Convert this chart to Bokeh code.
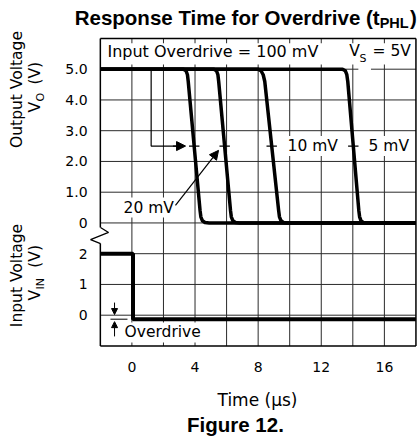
import numpy as np
from math import pi
from bokeh.plotting import figure
from bokeh.models import Label, Arrow, NormalHead, Range1d
from bokeh.core.properties import value
from bokeh.embed import file_html
from bokeh.resources import INLINE

# ---------------- data ----------------
time_ticks = [0, 4, 8, 12, 16]
time_tick_labels = ["0", "4", "8", "12", "16"]
vo_tick_values = [0, 1, 2, 3, 4, 5]
vo_tick_labels = ["0", "1.0", "2.0", "3.0", "4.0", "5.0"]
vin_tick_values = [0, 1, 2]
vin_tick_labels = ["0", "1", "2"]
VO_OFFSET = 3  # Vo panel is stacked 3 units above Vin = 0 on the shared axis

# output response curves (time in us, Vo in V)
t_100mV = [-2, 3.27, 3.43, 3.52, 3.57, 4.32, 4.37, 4.47, 4.63, 4.90, 18]
vo_100mV = [5, 5, 4.95, 4.82, 4.6, 0.4, 0.2, 0.07, 0.015, 0, 0]
t_20mV = [-2, 5.20, 5.36, 5.45, 5.50, 6.25, 6.30, 6.40, 6.56, 6.83, 18]
vo_20mV = [5, 5, 4.95, 4.82, 4.6, 0.4, 0.2, 0.07, 0.015, 0, 0]
t_10mV = [-2, 7.98, 8.18, 8.32, 8.42, 9.30, 9.35, 9.45, 9.60, 9.85, 18]
vo_10mV = [5, 5, 4.95, 4.82, 4.6, 0.4, 0.2, 0.07, 0.015, 0, 0]
t_5mV = [-2, 13.35, 13.52, 13.62, 13.68, 14.38, 14.43, 14.52, 14.66, 14.92, 18]
vo_5mV = [5, 5, 4.95, 4.82, 4.6, 0.4, 0.2, 0.07, 0.015, 0, 0]
crossing_t = [3.95, 5.88, 8.86, 14.03]   # time where Vo = 2.5 V
crossing_v = 2.5

# input step
vin_t = [-2, 0.07, 0.07, 18]
vin_v = [2, 2, -0.13, -0.13]

grid_t = [0, 2, 4, 6, 8, 10, 12, 14, 16]
grid_y = [0, 1, 2, 3, 4, 5, 6, 7, 8]
t_min, t_max = -2, 18
y_min, y_max = -1, 9

FONT = "DejaVu Sans"
BOLD = "Liberation Sans"

p = figure(width=418, height=436, output_backend="svg", toolbar_location=None,
           x_range=Range1d(-8.327, 18.162), y_range=Range1d(-3.945, 10.234),
           x_axis_location=None, y_axis_location=None,
           min_border=0, min_border_left=0, min_border_right=0,
           min_border_top=0, min_border_bottom=0)
p.outline_line_color = None
p.xgrid.visible = False
p.ygrid.visible = False
p.background_fill_color = "white"
p.border_fill_color = "white"

# grid
GC = "#2a2a2a"
p.segment(x0=grid_t, y0=[y_min] * len(grid_t), x1=grid_t, y1=[y_max] * len(grid_t),
          line_color=GC, line_width=1)
p.segment(x0=[t_min] * len(grid_y), y0=grid_y, x1=[t_max] * len(grid_y), y1=grid_y,
          line_color=GC, line_width=1)
# blank band behind top annotation text
p.quad(left=t_min, right=t_max, bottom=8.15, top=8.84, fill_color="white", line_color=None)
p.quad(left=14.35, right=15.15, bottom=7.93, top=8.07, fill_color="white", line_color=None)

# frame with axis break on the left
BC = "black"
p.segment(x0=[t_min, t_min, t_min, t_max], y0=[y_max, y_min, y_min, y_min],
          x1=[t_max, t_max, t_min, t_max], y1=[y_max, y_min, 2.33, y_max],
          line_color=BC, line_width=1.5)
p.line([t_min, t_min], [2.85, y_max], line_color=BC, line_width=1.5)
p.line([-1.99, -1.48, -2.62, -1.99], [2.85, 2.69, 2.46, 2.33], line_color=BC, line_width=1.3)

# tick labels (positioned through the plot's scales)
yt = list(vin_tick_values) + [v + VO_OFFSET for v in vo_tick_values]
yl = list(vin_tick_labels) + list(vo_tick_labels)
p.text(x=[-2.81] * len(yt), y=yt, text=yl, text_align="right", text_baseline="middle",
       text_font=value(FONT), text_font_size="14px", text_color="black")
p.text(x=time_ticks, y=[-1.67] * len(time_ticks), text=time_tick_labels,
       text_align="center", text_baseline="middle",
       text_font=value(FONT), text_font_size="14px", text_color="black")

# curves
for tt, vv in ((t_100mV, vo_100mV), (t_20mV, vo_20mV), (t_10mV, vo_10mV), (t_5mV, vo_5mV)):
    p.line(tt, np.array(vv) + VO_OFFSET, line_color="black", line_width=3.5,
           line_join="round")
p.line(vin_t, vin_v, line_color="black", line_width=4)

# crossing marks
ct = np.array(crossing_t)
cy = crossing_v + VO_OFFSET
p.segment(x0=ct - 0.33, y0=[cy] * 4, x1=ct + 0.33, y1=[cy] * 4, line_color="black", line_width=1.2)

# annotation arrows
p.line([1.22, 1.22, 3.0], [8, 5.5, 5.5], line_color="black", line_width=1.2)
p.add_layout(Arrow(end=NormalHead(size=9, fill_color="black", line_color="black"),
                   x_start=2.6, y_start=5.5, x_end=3.40, y_end=5.5,
                   line_color="black", line_width=1.2))
p.add_layout(Arrow(end=NormalHead(size=9, fill_color="black", line_color="black"),
                   x_start=2.76, y_start=3.57, x_end=5.49, y_end=5.36,
                   line_color="black", line_width=1.2))
p.add_layout(Arrow(end=NormalHead(size=6, fill_color="black", line_color="black"),
                   x_start=-1.10, y_start=0.41, x_end=-1.10, y_end=0.02,
                   line_color="black", line_width=1))
p.add_layout(Arrow(end=NormalHead(size=6, fill_color="black", line_color="black"),
                   x_start=-1.10, y_start=-0.69, x_end=-1.10, y_end=-0.21,
                   line_color="black", line_width=1))
p.line([-1.36, -0.28], [-0.13, -0.13], line_color="black", line_width=1)


def lab(text, x, y, size="15.5px", align="left", baseline="middle", font=FONT,
        style="normal", angle=0.0, bg=None):
    l = Label(x=x, y=y, text=text, text_font=font, text_font_size=size,
              text_align=align, text_baseline=baseline, text_font_style=style,
              angle=angle, text_color="black")
    if bg:
        l.background_fill_color = bg
        l.padding = 1
    p.add_layout(l)


# in-plot texts
lab("Input Overdrive = 100 mV", -1.55, 8.58, size="16px")
lab("V", 13.78, 8.58)
lab("S", 14.43, 8.35, size="11px")
lab("= 5V", 15.25, 8.58)
lab("20 mV", -0.59, 3.50, bg="white")
lab("10 mV", 9.80, 5.5, bg="white")
lab("5 mV", 14.93, 5.5, bg="white")
lab("Overdrive", -0.53, -0.56, bg="white")

# y-axis titles (rotated)
lab("Output Voltage", -7.25, 7.34, align="center", angle=pi / 2)
lab("V", -6.17, 6.59, angle=pi / 2)
lab("O", -5.80, 6.95, size="11px", angle=pi / 2)
lab("(V)", -6.17, 7.50, angle=pi / 2)
lab("Input Voltage", -7.25, 1.29, align="center", angle=pi / 2)
lab("V", -6.17, 0.48, angle=pi / 2)
lab("IN", -5.80, 0.836, size="11px", angle=pi / 2)
lab("(V)", -6.17, 1.545, angle=pi / 2)

# x-axis title, chart title, figure caption
lab("Time (\u00b5s)", 7.96, -2.77, size="17px", align="center")
lab("Response Time for Overdrive (t", 15.70, 9.68, size="20.5px", align="right",
    font=BOLD, style="bold")
lab("PHL", 15.70, 9.49, size="14.5px", font=BOLD, style="bold")
lab(")", 17.62, 9.68, size="20.5px", font=BOLD, style="bold")
lab("Figure 12.", 6.56, -3.55, size="20.5px", align="center", font=BOLD, style="bold")

open("out.html", "w").write(file_html(p, INLINE))
